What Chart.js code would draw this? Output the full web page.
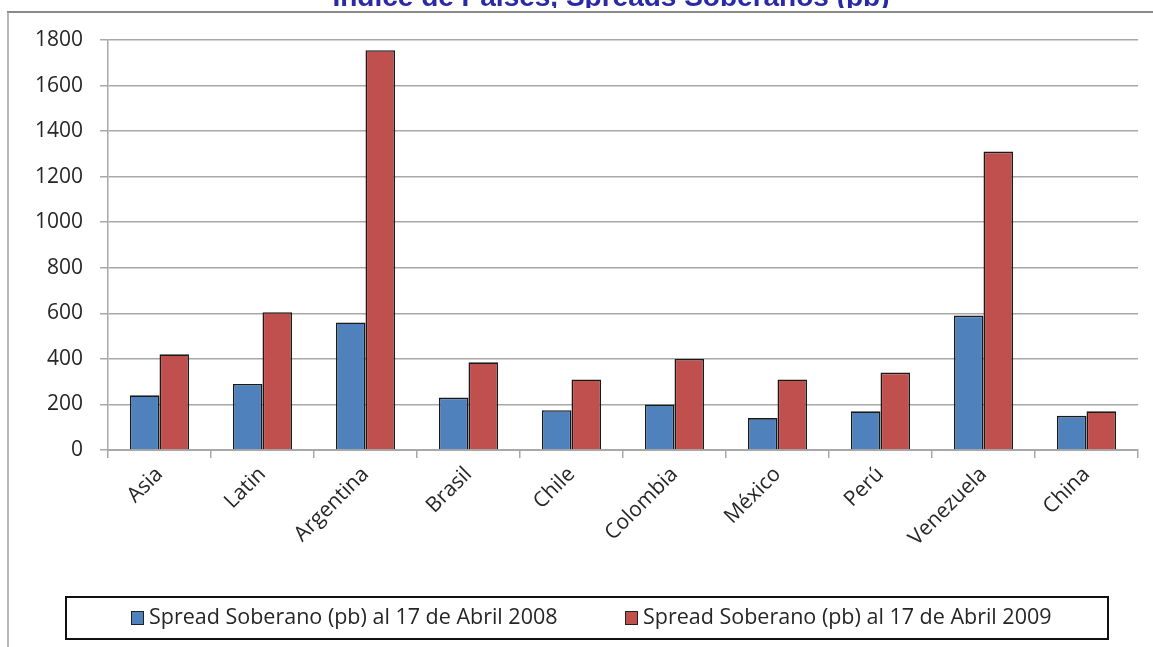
<!DOCTYPE html>
<html>
<head>
<meta charset="utf-8">
<script src="https://cdn.jsdelivr.net/npm/chart.js@4.4.0/dist/chart.umd.min.js"></script>
<style>
  html, body { margin: 0; padding: 0; background: #fff; }
  #wrap { width: 1153px; height: 647px; position: relative; }
</style>
</head>
<body>
<div id="wrap"><canvas id="chart"></canvas></div>
<script>
// Spreads soberanos (pb) por país
const categories = ['Asia', 'Latin', 'Argentina', 'Brasil', 'Chile', 'Colombia', 'México', 'Perú', 'Venezuela', 'China'];
const spread2008 = [240, 290, 560, 230, 175, 200, 140, 170, 590, 150];
const spread2009 = [420, 605, 1755, 385, 310, 400, 310, 340, 1310, 170];
const seriesLabels = ['Spread Soberano (pb) al 17 de Abril 2008', 'Spread Soberano (pb) al 17 de Abril 2009'];
const titleText = 'Indice de Países, Spreads Soberanos (pb)';

const FONT = "'Open Sans', 'Noto Sans', sans-serif";
const GRID = '#a8a8a8';

// frame, cut-off title and boxed legend drawn on top
const decor = {
  id: 'decor',
  beforeDraw(chart) {
    const c = chart.ctx;
    c.save();
    c.fillStyle = '#fff';
    c.fillRect(0, 0, chart.width, chart.height);
    c.restore();
  },
  afterDraw(chart) {
    const c = chart.ctx;
    c.save();

    // title (top half cut off by the frame)
    c.font = 'bold 20px Arial, "Liberation Sans", sans-serif';
    const w = c.measureText(titleText).width;
    const size = 20 * 558 / w;
    c.font = 'bold ' + size.toFixed(1) + 'px Arial, "Liberation Sans", sans-serif';
    c.fillStyle = '#2a2aa6';
    c.textAlign = 'center';
    c.textBaseline = 'alphabetic';
    c.fillText(titleText, 611, 6);
    c.fillStyle = '#fff';
    c.fillRect(0, 8, chart.width, 3);

    // outer frame
    c.strokeStyle = '#8a8a8a';
    c.lineWidth = 2;
    c.beginPath();
    c.moveTo(7, 12); c.lineTo(chart.width, 12);
    c.stroke();
    c.strokeStyle = '#a0a0a0';
    c.lineWidth = 1.5;
    c.beginPath();
    c.moveTo(8, 12); c.lineTo(8, chart.height);
    c.stroke();

    // legend box
    c.strokeStyle = '#111';
    c.lineWidth = 2;
    c.strokeRect(66, 597, 1042, 42);
    c.font = '21.5px ' + FONT;
    c.textAlign = 'left';
    c.textBaseline = 'middle';
    const xs = [131, 625];
    chart.data.datasets.forEach((ds, i) => {
      c.fillStyle = ds.backgroundColor;
      c.fillRect(xs[i], 611, 12, 13);
      c.strokeStyle = '#222';
      c.lineWidth = 1;
      c.strokeRect(xs[i] + 0.5, 611.5, 12, 13);
      c.fillStyle = '#262626';
      c.fillText(ds.label, xs[i] + 18, 618);
    });
    c.restore();
  }
};

new Chart(document.getElementById('chart'), {
  type: 'bar',
  data: {
    labels: categories,
    datasets: [
      { label: seriesLabels[0], data: spread2008, backgroundColor: '#4f81bd', borderColor: '#1a1a1a', borderWidth: 1.6, borderSkipped: 'bottom' },
      { label: seriesLabels[1], data: spread2009, backgroundColor: '#c0504d', borderColor: '#1a1a1a', borderWidth: 1.6, borderSkipped: 'bottom' },
    ],
  },
  options: {
    responsive: true, maintainAspectRatio: false, animation: false,
    layout: { padding: { top: 40, right: 15, left: 0, bottom: 0 } },
    datasets: { bar: { barPercentage: 1.0, categoryPercentage: 0.575 } },
    plugins: {
      legend: { display: false },
      title: { display: false },
      tooltip: { enabled: false },
    },
    scales: {
      x: {
        grid: { offset: true, drawOnChartArea: false, drawTicks: true, tickLength: 8, color: GRID, lineWidth: 1.5 },
        border: { color: GRID, width: 2 },
        ticks: { color: '#262626', font: { family: FONT, size: 21 }, minRotation: 45, maxRotation: 45, autoSkip: false, padding: 4 },
        afterFit: (s) => { s.height = 197; },
      },
      y: {
        min: 0, max: 1800,
        grid: { color: GRID, lineWidth: 1.5, tickLength: 8 },
        border: { color: GRID, width: 1.5 },
        ticks: { stepSize: 200, color: '#262626', font: { family: FONT, size: 21 }, padding: 17, callback: (v) => String(v) },
        afterFit: (s) => { s.width = 108; },
      },
    },
  },
  plugins: [decor],
});
</script>
</body>
</html>
